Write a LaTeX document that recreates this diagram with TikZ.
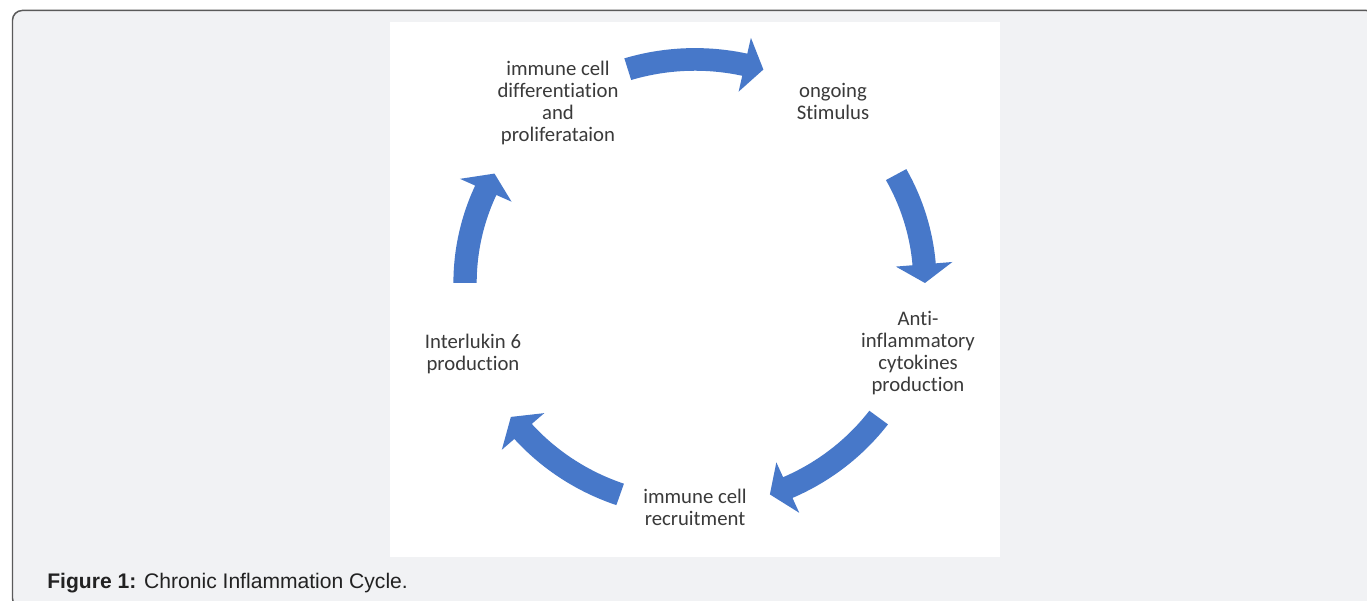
\documentclass[tikz,border=0pt]{standalone}
\usepackage{fontspec}
\setmainfont{Carlito}[Ligatures=NoCommon]
\newfontfamily\capfont{Liberation Sans}
\usepackage{tikz}
\definecolor{cycblue}{HTML}{4778C9}
\definecolor{txtgrey}{HTML}{3A3A3A}
\definecolor{capgrey}{HTML}{222222}
\definecolor{pagegrey}{HTML}{F1F2F4}
\definecolor{framegrey}{HTML}{5A5A5A}
\tikzset{
  lbl/.style={align=center, font=\fontsize{11.8}{12.5}\selectfont, text=txtgrey, inner sep=0pt},
  capt/.style={anchor=base west, inner sep=0pt, font=\capfont\fontsize{12}{14}\selectfont, text=capgrey},
}
\newcommand{\bentarrow}[2]{%
  \pgfmathsetmacro{\hb}{#2-4.8}
  \fill[cycblue] plot[domain=#1:\hb, samples=25] (\x:215.5) -- (\hb:199) -- (#2:227)
    -- (\hb:255) -- (\hb:238.5) -- plot[domain=\hb:#1, samples=25] (\x:238.5) -- cycle;
}

\begin{document}
\begin{tikzpicture}[x=0.02cm, y=-0.02cm]
     \useasboundingbox (0,0) rectangle (1367,601);
     \fill[white] (0,0) rectangle (1367,601);
     \draw[framegrey, line width=0.85pt, fill=pagegrey, rounded corners=5.5pt] (12.5,10.5) rectangle (1376,608);
     \fill[white] (390,22) rectangle (1000,557);
     \begin{scope}[shift={(695,283)}, xscale=1.013, yscale=0.985]
       \bentarrow{-107}{-72.7}
       \bentarrow{-29}{0}
       \bentarrow{37}{71}
       \bentarrow{109}{143.2}
       \bentarrow{180}{209.3}
     \end{scope}
     \node[lbl] (prolif) at (558,103) {immune cell\\differentiation\\and\\proliferataion};
     \node[lbl] (stim) at (833,101) {ongoing\\Stimulus};
     \node[lbl] (cyto) at (918,353) {Anti-\\inflammatory\\cytokines\\production};
     \node[lbl] (recruit) at (695,507) {immune cell\\recruitment};
     \node[lbl] (il6) at (473,354) {Interlukin 6\\production};
     \node[capt] (caption) at (47,588) {\textbf{Figure 1:} Chronic Inflammation Cycle.};
   \end{tikzpicture}
\end{document}
